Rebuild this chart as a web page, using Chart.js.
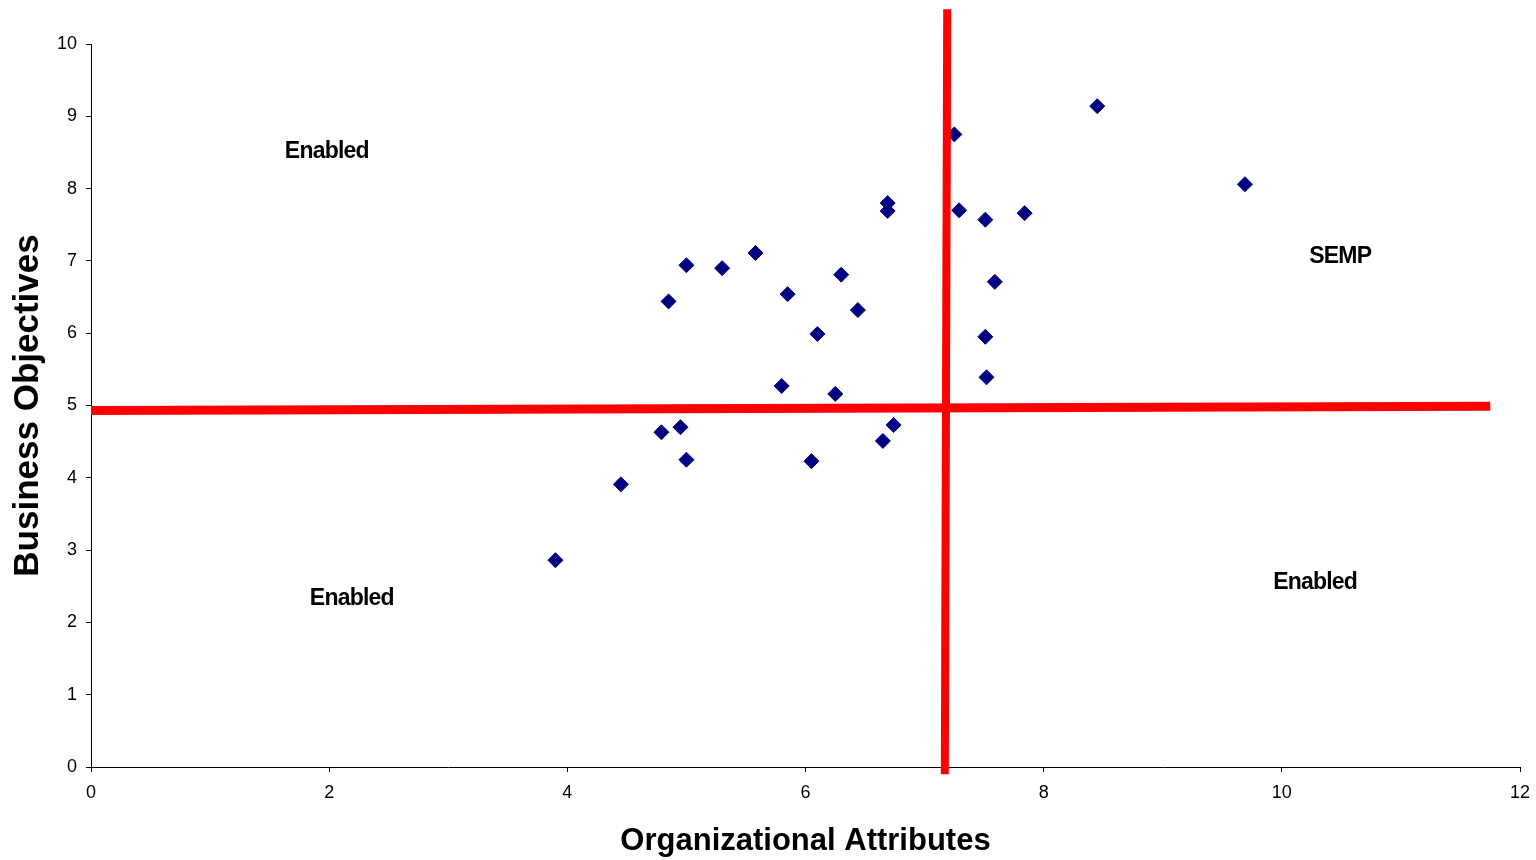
<!DOCTYPE html>
<html>
<head>
<meta charset="utf-8">
<script src="https://cdn.jsdelivr.net/npm/chart.js@4"></script>
<style>
  html, body { margin: 0; padding: 0; background: #fff; }
  #wrap { width: 1536px; height: 860px; }
</style>
</head>
<body>
<div id="wrap"><canvas id="c" width="1536" height="860"></canvas></div>
<script>
// Survey points
const orgAttributes = [3.90, 4.45, 4.79, 4.95, 5.00, 4.85, 5.00, 5.30, 5.58, 5.85, 5.80, 6.10, 6.30, 6.44, 6.25, 6.05, 6.65, 6.74, 6.69, 6.69, 7.25, 7.29, 7.51, 7.84, 7.59, 7.51, 7.52, 8.45, 9.69];
const businessObjectives = [2.86, 3.91, 4.63, 4.70, 4.25, 6.44, 6.94, 6.90, 7.11, 6.54, 5.27, 5.99, 6.81, 6.32, 5.16, 4.23, 4.51, 4.73, 7.80, 7.69, 8.75, 7.70, 7.57, 7.66, 6.71, 5.95, 5.39, 9.14, 8.06];

// Quadrant divider lines
const hDividerX = [0, 11.75];
const hDividerY = [4.93, 4.99];
const vDividerX = [7.19, 7.17];
const vDividerY = [10.48, -0.10];

// Quadrant labels
const quadrantLabels = ['Enabled', 'Enabled', 'Enabled', 'SEMP'];
const quadrantLabelX = [1.98, 2.19, 10.28, 10.49];
const quadrantLabelY = [8.51, 2.33, 2.55, 7.06];

// Axis ticks
const xTicks = [0, 2, 4, 6, 8, 10, 12];
const yTicks = [0, 1, 2, 3, 4, 5, 6, 7, 8, 9, 10];

const FONT = "'Liberation Sans', Arial, sans-serif";
const pts = (xs, ys) => xs.map((x, i) => ({ x, y: ys[i] }));

const labelPlugin = {
  id: 'quadrantLabels',
  afterDatasetsDraw(chart) {
    const { ctx, scales: { x, y } } = chart;
    ctx.save();
    ctx.font = "bold 23px " + FONT;
    ctx.fillStyle = '#000';
    ctx.textAlign = 'center';
    ctx.textBaseline = 'middle';
    if ('letterSpacing' in ctx) ctx.letterSpacing = '-0.8px';
    quadrantLabels.forEach((t, i) => {
      ctx.fillText(t, x.getPixelForValue(quadrantLabelX[i]), y.getPixelForValue(quadrantLabelY[i]));
    });
    ctx.restore();
  }
};

new Chart(document.getElementById('c'), {
  type: 'scatter',
  data: {
    datasets: [
      {
        label: 'Horizontal divider',
        data: pts(hDividerX, hDividerY),
        showLine: true,
        borderColor: '#ff0000',
        backgroundColor: '#ff0000',
        borderWidth: 9,
        pointRadius: 0,
        clip: false,
        order: 0
      },
      {
        label: 'Vertical divider',
        data: pts(vDividerX, vDividerY),
        showLine: true,
        borderColor: '#ff0000',
        backgroundColor: '#ff0000',
        borderWidth: 8,
        pointRadius: 0,
        clip: false,
        order: 0
      },
      {
        label: 'Responses',
        data: pts(orgAttributes, businessObjectives),
        pointStyle: 'rectRot',
        pointRadius: 7.5,
        pointHoverRadius: 7.5,
        borderWidth: 1,
        backgroundColor: '#000080',
        borderColor: '#000080',
        order: 1
      }
    ]
  },
  plugins: [labelPlugin],
  options: {
    responsive: false,
    animation: false,
    layout: { padding: { top: 44, right: 16, left: 0, bottom: 0 } },
    plugins: { legend: { display: false }, tooltip: { enabled: false } },
    scales: {
      x: {
        type: 'linear',
        min: 0, max: 12,
        afterBuildTicks: (s) => { s.ticks = xTicks.map(v => ({ value: v })); },
        afterFit: (s) => { s.height = 93; s.paddingRight = 0; s.paddingLeft = 0; },
        ticks: { color: '#000', font: { family: FONT, size: 18 }, padding: 10, maxRotation: 0 },
        grid: { display: true, drawOnChartArea: false, drawTicks: true, tickLength: 5, color: '#000', lineWidth: 1 },
        border: { display: true, color: '#000', width: 1 },
        title: { display: true, text: 'Organizational Attributes', color: '#000', font: { family: FONT, size: 31, weight: 'bold' }, padding: { top: 0, bottom: 0 } }
      },
      y: {
        type: 'linear',
        min: 0, max: 10,
        afterBuildTicks: (s) => { s.ticks = yTicks.map(v => ({ value: v })); },
        afterFit: (s) => { s.width = 91; s.paddingTop = 0; s.paddingBottom = 0; },
        ticks: { color: '#000', font: { family: FONT, size: 18 }, padding: 9 },
        grid: { display: true, drawOnChartArea: false, drawTicks: true, tickLength: 5, color: '#000', lineWidth: 1 },
        border: { display: true, color: '#000', width: 1 },
        title: { display: true, text: 'Business Objectives', color: '#000', font: { family: FONT, size: 35, weight: 'bold' }, padding: { top: 7, bottom: 0 } }
      }
    }
  }
});
</script>
</body>
</html>
